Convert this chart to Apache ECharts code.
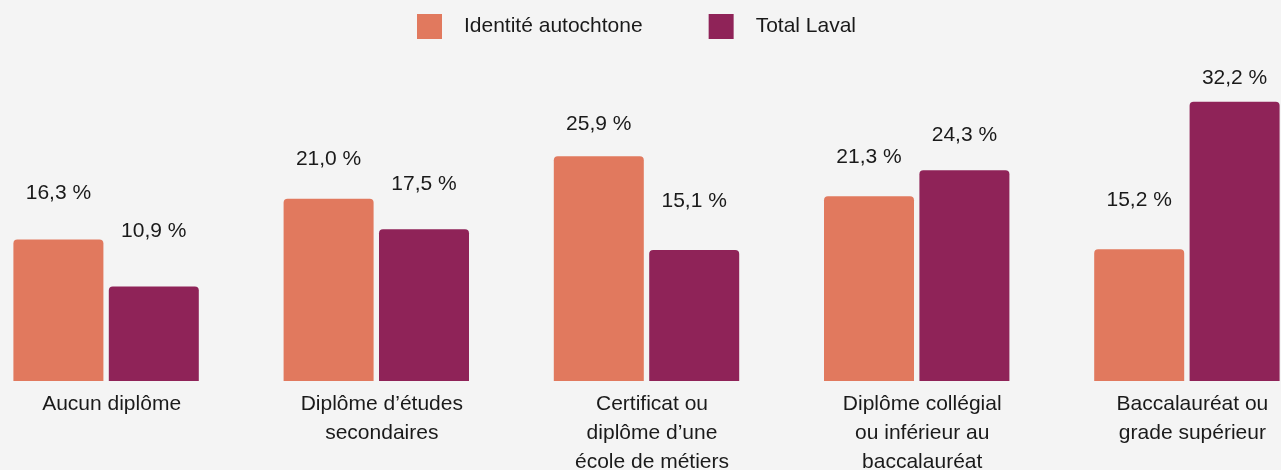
<!DOCTYPE html>
<html>
<head>
<meta charset="utf-8">
<script src="https://cdn.jsdelivr.net/npm/echarts@6/dist/echarts.min.js"></script>
<style>
  html, body { margin: 0; padding: 0; background: #f4f4f4; }
  #chart { width: 1281px; height: 470px; }
</style>
</head>
<body>
<div id="chart"></div>
<script>
const categories = [
  'Aucun diplôme',
  'Diplôme d’études\nsecondaires',
  'Certificat ou\ndiplôme d’une\nécole de métiers',
  'Diplôme collégial\nou inférieur au\nbaccalauréat',
  'Baccalauréat ou\ngrade supérieur'
];
const seriesNames = ['Identité autochtone', 'Total Laval'];
const autochtone = [16.3, 21.0, 25.9, 21.3, 15.2];
const totalLaval = [10.9, 17.5, 15.1, 24.3, 32.2];

const colors = ['#e1795e', '#8f2358'];
const textColor = '#1a1a1a';
const font = 'Liberation Sans, Arial, sans-serif';

const chart = echarts.init(document.getElementById('chart'));

function fmt(v) {
  return v.toFixed(1).replace('.', ',') + ' %';
}

// bars drawn on the left axis, value labels on a hidden axis with its own scale
function barSeries(name, data, color) {
  return {
    name: name,
    type: 'bar',
    xAxisIndex: 0,
    yAxisIndex: 0,
    data: data,
    barWidth: 90,
    barGap: '6%',
    silent: true,
    itemStyle: { color: color, borderRadius: [4, 4, 0, 0] }
  };
}

function labelSeries(data) {
  return {
    type: 'bar',
    xAxisIndex: 1,
    yAxisIndex: 1,
    data: data,
    barWidth: 90,
    barGap: '6%',
    silent: true,
    itemStyle: { color: 'transparent' },
    label: {
      show: true,
      position: ['50%', 0],
      align: 'center',
      verticalAlign: 'middle',
      color: textColor,
      fontFamily: font,
      fontSize: 21,
      formatter: (p) => fmt(p.value)
    }
  };
}

const option = {
  backgroundColor: '#f4f4f4',
  animation: false,
  legend: {
    data: seriesNames,
    left: 412,
    top: 9,
    itemWidth: 25,
    itemHeight: 25,
    itemGap: 66,
    icon: 'rect',
    selectedMode: false,
    textStyle: {
      color: textColor,
      fontFamily: font,
      fontSize: 21,
      lineHeight: 25,
      padding: [0, 0, 0, 17]
    }
  },
  grid: {
    left: -29,
    width: 1351,
    top: 34,
    bottom: 89,
    outerBoundsMode: 'none'
  },
  xAxis: [
    {
      type: 'category',
      data: categories,
      axisLine: { show: false },
      axisTick: { show: false },
      axisLabel: {
        interval: 0,
        margin: 9,
        color: textColor,
        fontFamily: font,
        fontSize: 21,
        lineHeight: 29,
        padding: [0, 0, 0, 11]
      }
    },
    {
      type: 'category',
      data: categories,
      show: false
    }
  ],
  yAxis: [
    { type: 'value', min: 0, max: 40, show: false },
    { type: 'value', min: -9.9, max: 38.4, show: false }
  ],
  series: [
    barSeries(seriesNames[0], autochtone, colors[0]),
    barSeries(seriesNames[1], totalLaval, colors[1]),
    labelSeries(autochtone),
    labelSeries(totalLaval)
  ]
};

chart.setOption(option);
</script>
</body>
</html>
